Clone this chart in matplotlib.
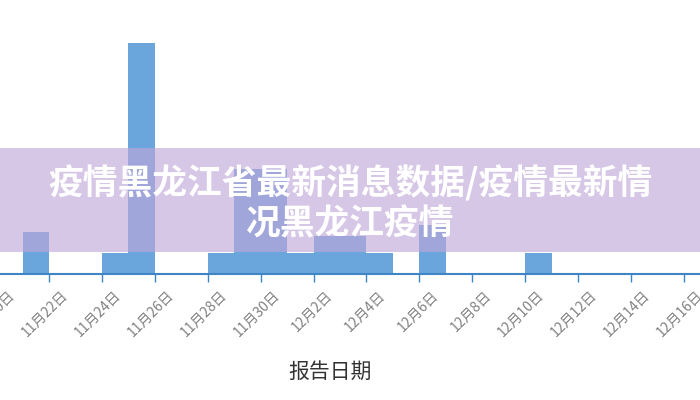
import matplotlib
matplotlib.use("Agg")
import matplotlib.pyplot as plt
import matplotlib.patches as patches
import matplotlib.dates as mdates
import matplotlib.transforms as mtransforms
import pandas as pd

plt.rcParams['font.family'] = ['Noto Sans CJK SC', 'DejaVu Sans']

# 每日报告数 (11月20日 - 12月16日)
dates = pd.date_range('2021-11-20', '2021-12-16', freq='D')
counts = [0, 2, 0, 0, 1, 11, 0, 0, 1, 5, 5, 1, 1.8, 1.8, 1, 0,
          2.3, 0, 0, 0, 1, 0, 0, 0, 0, 0, 0]
xlabel = "报告日期"
title_lines = ["疫情黑龙江省最新消息数据/疫情最新情", "况黑龙江疫情"]

bar_color = '#6aa5db'
axis_color = '#3f84c4'

fig = plt.figure(figsize=(7, 4), dpi=100)
# 坐标轴比画布略宽，让 11月20日 的刻度也能露出一点
ax = fig.add_axes([-10 / 700, (400 - 273.5) / 400, 720 / 700, (273.5 - 20) / 400])

ax.bar(dates, counts, width=1.0, align='edge', color=bar_color, linewidth=0)

px_per_day = 26.45
left = dates[2] - pd.Timedelta(days=59 / px_per_day)
right = left + pd.Timedelta(days=720 / px_per_day)
ax.set_xlim(left, right)
ax.set_ylim(0, 253.5 / 21.0)

ax.xaxis.set_major_locator(mdates.DayLocator(bymonthday=range(2, 32, 2)))
ax.xaxis.set_major_formatter(
    plt.FuncFormatter(lambda v, p: "{}月{}日".format(mdates.num2date(v).month,
                                                    mdates.num2date(v).day)))

ax.tick_params(axis='x', colors=axis_color, length=6, width=1,
               labelcolor='#808080', labelsize=10, pad=3)
offset = mtransforms.ScaledTranslation(0.12, -0.02, fig.dpi_scale_trans)
for lab in ax.get_xticklabels():
    lab.set_rotation(45)
    lab.set_ha('right')
    lab.set_rotation_mode('anchor')
    lab.set_transform(lab.get_transform() + offset)
ax.set_yticks([])
for s in ['left', 'right', 'top']:
    ax.spines[s].set_visible(False)
ax.spines['bottom'].set_color(axis_color)
ax.spines['bottom'].set_linewidth(1.5)

fig.text(330 / 700, 1 - 372 / 400, xlabel, ha='center', va='center',
         fontsize=15, color='#333333')

# 紫色半透明横幅与标题
band = patches.Rectangle((0, 1 - 252 / 400), 1, 104 / 400, transform=fig.transFigure,
                         facecolor=(192 / 255, 167 / 255, 217 / 255), alpha=0.63,
                         edgecolor='none', zorder=10)
fig.add_artist(band)
fig.text(0.5, 1 - 183 / 400, title_lines[0], ha='center', va='center',
         fontsize=25, fontweight='heavy', color='white', zorder=11)
fig.text(0.5, 1 - 224 / 400, title_lines[1], ha='center', va='center',
         fontsize=25, fontweight='heavy', color='white', zorder=11)

fig.savefig('out.png', dpi=100)
